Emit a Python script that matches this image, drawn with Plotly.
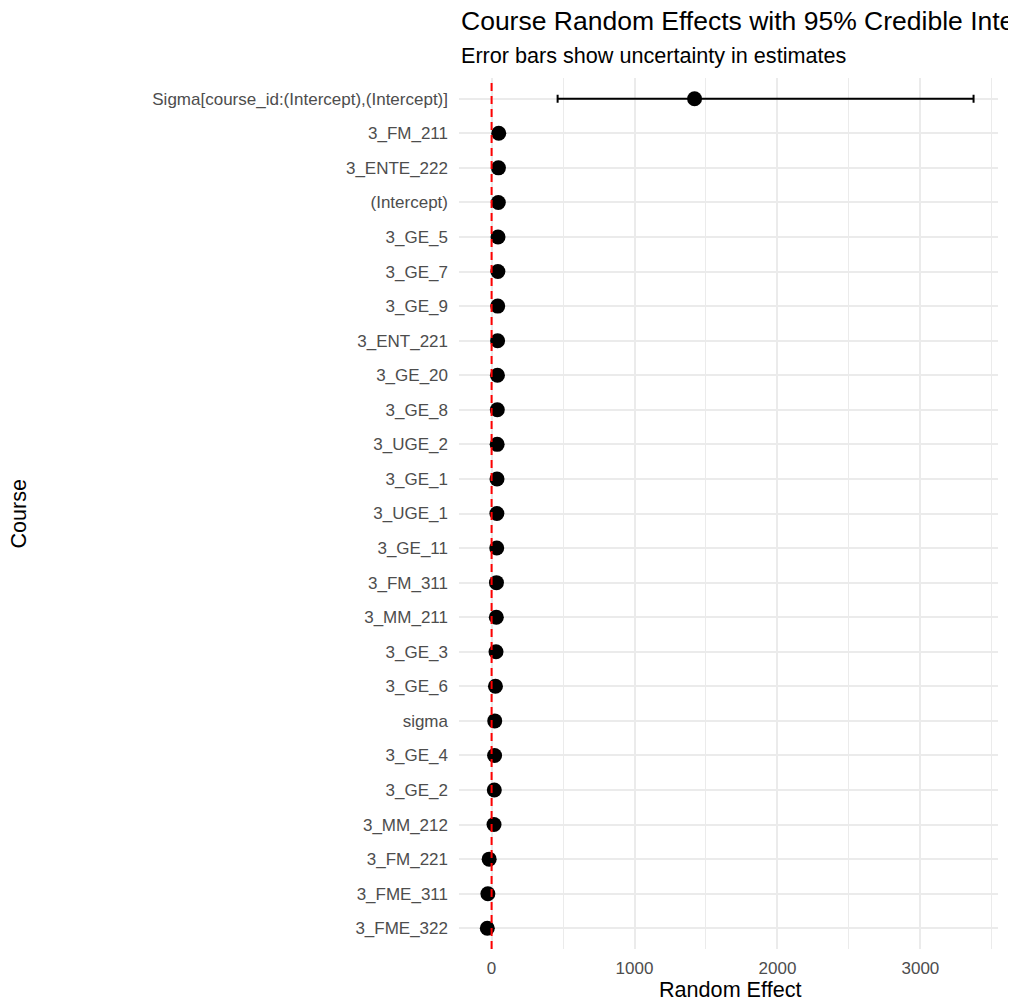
import plotly.graph_objects as go

courses = [
    "Sigma[course_id:(Intercept),(Intercept)]", "3_FM_211", "3_ENTE_222", "(Intercept)",
    "3_GE_5", "3_GE_7", "3_GE_9", "3_ENT_221", "3_GE_20", "3_GE_8", "3_UGE_2", "3_GE_1",
    "3_UGE_1", "3_GE_11", "3_FM_311", "3_MM_211", "3_GE_3", "3_GE_6", "sigma", "3_GE_4",
    "3_GE_2", "3_MM_212", "3_FM_221", "3_FME_311", "3_FME_322",
]
estimate = [1420, 50, 48, 47, 45, 44, 43, 42, 41, 40, 39, 38, 37, 36, 34, 33, 31, 27,
            22, 21, 19, 17, -17, -26, -30]
lower = [462, 25, 24, 22, 20, 20, 19, 18, 17, 16, 15, 14, 13, 12, 10, 9, 7, 3,
         18, -4, -6, -8, -42, -52, -57]
upper = [3372, 75, 72, 72, 70, 68, 67, 66, 65, 64, 63, 62, 61, 60, 58, 57, 55, 51,
         26, 46, 44, 42, 8, -1, -4]

x_ticks = [0, 1000, 2000, 3000]

err_plus = [u - e for u, e in zip(upper, estimate)]
err_minus = [e - l for e, l in zip(estimate, lower)]

FONT = "Liberation Sans, Arial, sans-serif"

fig = go.Figure()
fig.add_trace(go.Scatter(
    x=estimate, y=courses, mode="markers",
    marker=dict(color="black", size=15),
    error_x=dict(type="data", symmetric=False, array=err_plus, arrayminus=err_minus,
                 color="black", thickness=2, width=4),
    showlegend=False,
))

fig.add_shape(type="line", xref="x", yref="paper", x0=0, x1=0, y0=0, y1=1,
              line=dict(color="red", width=2, dash="8px,5px"), layer="above")

fig.update_layout(
    width=1008, height=991,
    margin=dict(l=451, r=18, t=70, b=50, autoexpand=False),
    paper_bgcolor="white", plot_bgcolor="white",
    font=dict(family=FONT, color="black"),
    xaxis=dict(
        range=[-228, 3543], tickvals=x_ticks, ticktext=[str(v) for v in x_ticks],
        showgrid=True, gridcolor="#EBEBEB", gridwidth=2, zeroline=False,
        showline=False, ticks="", tickfont=dict(size=17, color="#4D4D4D"),
        ticklabelstandoff=7,
        minor=dict(dtick=500, tick0=0, showgrid=True, gridcolor="#EBEBEB", gridwidth=1),
        automargin=False,
    ),
    yaxis=dict(
        categoryorder="array", categoryarray=courses, range=[24.6, -0.6],
        showgrid=True, gridcolor="#EBEBEB", gridwidth=2, zeroline=False,
        showline=False, ticks="", tickfont=dict(size=17, color="#4D4D4D"),
        ticklabelstandoff=10, automargin=False,
    ),
    annotations=[
        dict(text="Course Random Effects with 95% Credible Intervals", xref="paper", yref="paper",
             x=0, y=1.0655, xanchor="left", yanchor="middle", showarrow=False,
             font=dict(size=26.5, color="black", family=FONT)),
        dict(text="Error bars show uncertainty in estimates", xref="paper", yref="paper",
             x=0, y=1.0253, xanchor="left", yanchor="middle", showarrow=False,
             font=dict(size=21.6, color="black", family=FONT)),
        dict(text="Random Effect", xref="paper", yref="paper",
             x=0.502, y=-0.047, xanchor="center", yanchor="middle", showarrow=False,
             font=dict(size=21.6, color="black", family=FONT)),
        dict(text="Course", xref="paper", yref="paper", textangle=-90,
             x=-0.818, y=0.5, xanchor="center", yanchor="middle", showarrow=False,
             font=dict(size=21.6, color="black", family=FONT)),
    ],
)

fig.write_html("out.html")
